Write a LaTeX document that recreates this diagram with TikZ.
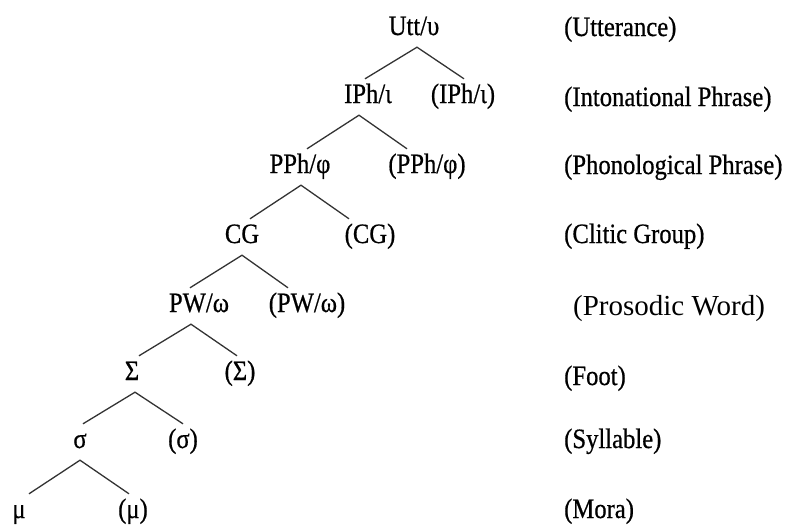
\documentclass[tikz,border=0pt]{standalone}
\usepackage{fontspec}
\setmainfont{Liberation Serif}
\newfontfamily\condfont{Liberation Serif}[FakeStretch=0.88,FakeBold=0.6]
\begin{document}
\begin{tikzpicture}[x=1pt,y=-1pt,
  tn/.style={anchor=base, font=\condfont\fontsize{28}{30}\selectfont, inner xsep=0pt, inner ysep=12pt, text height=12pt, text depth=0pt},
  lab/.style={anchor=base west, font=\condfont\fontsize{28}{30}\selectfont, inner sep=0pt},
  labw/.style={anchor=base west, font=\fontsize{29}{31}\selectfont, inner sep=0pt},
  br/.style={draw=black!80, line width=1.3pt}]
\useasboundingbox (0,0) rectangle (788,525);
% tree nodes
\node[tn] (utt) at (414,35) {Utt/υ};
\node[tn] (iph) at (368,103) {IPh/ι};
\node[tn] (iphb) at (463,103) {(IPh/ι)};
\node[tn] (pph) at (300,173) {PPh/φ};
\node[tn] (pphb) at (427,173) {(PPh/φ)};
\node[tn] (cg) at (242,243) {CG};
\node[tn] (cgb) at (370,243) {(CG)};
\node[tn] (pw) at (199,312) {PW/ω};
\node[tn] (pwb) at (307,312) {(PW/ω)};
\node[tn] (ft) at (132,380) {Σ};
\node[tn] (ftb) at (240,380) {(Σ)};
\node[tn] (syl) at (80,448) {σ};
\node[tn] (sylb) at (183,448) {(σ)};
\node[tn] (mu) at (19,518) {μ};
\node[tn] (mub) at (133,518) {(μ)};
% branches
\draw[br] ([xshift=-3pt]iph.north) -- ([xshift=3pt]utt.south) -- ([xshift=1pt]iphb.north);
\draw[br] ([xshift=7pt]pph.north) -- ([xshift=-9pt]iph.south) -- ([xshift=-20pt]pphb.north);
\draw[br] ([xshift=8pt]cg.north) -- ([xshift=1pt]pph.south) -- ([xshift=-21pt]cgb.north);
\draw[br] ([xshift=-9pt]pw.north) -- (cg.south) -- ([xshift=-19pt]pwb.north);
\draw[br] ([xshift=7pt]ft.north) -- ([xshift=-8pt]pw.south) -- ([xshift=-3pt]ftb.north);
\draw[br] ([xshift=3pt]syl.north) -- ([xshift=3pt]ft.south) -- (sylb.north);
\draw[br] ([xshift=10pt]mu.north) -- (syl.south) -- ([xshift=-4pt]mub.north);
% level labels
\node[lab] (l1) at (564,36) {(Utterance)};
\node[lab] (l2) at (564,106) {(Intonational Phrase)};
\node[lab] (l3) at (564,174) {(Phonological Phrase)};
\node[lab] (l4) at (564,243) {(Clitic Group)};
\node[labw] (l5) at (573,315) {(Prosodic Word)};
\node[lab] (l6) at (564,385) {(Foot)};
\node[lab] (l7) at (564,448) {(Syllable)};
\node[lab] (l8) at (564,518) {(Mora)};
\end{tikzpicture}
\end{document}
